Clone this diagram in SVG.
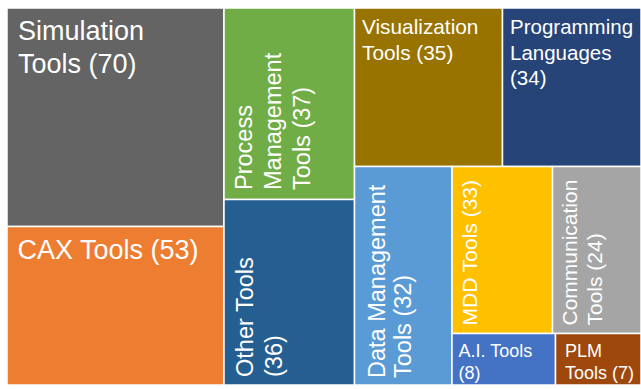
<svg xmlns="http://www.w3.org/2000/svg" width="641" height="389" viewBox="0 0 641 389">
<style>
.tile{stroke:#ffffff;stroke-width:1.5}
.lbl{fill:#ffffff;font-family:"Liberation Sans",Arial,sans-serif}
</style>
<rect width="641" height="389" fill="#ffffff"/>
<g id="simulation">
<rect class="tile" x="7" y="8" width="217" height="218.5" fill="#646464"/>
<text class="lbl" font-size="27"><tspan x="18" y="40">Simulation</tspan><tspan x="18" y="73">Tools (70)</tspan></text>
</g>
<g id="cax">
<rect class="tile" x="7" y="226.5" width="217" height="158.5" fill="#ED7D31"/>
<text class="lbl" font-size="27" x="17.5" y="259">CAX Tools (53)</text>
</g>
<g id="process">
<rect class="tile" x="224" y="8" width="130.5" height="191.5" fill="#70AD47"/>
<text class="lbl" font-size="23.5" transform="translate(252,190) rotate(-90)"><tspan x="0" y="0">Process</tspan><tspan x="0" y="29">Management</tspan><tspan x="0" y="58">Tools (37)</tspan></text>
</g>
<g id="other">
<rect class="tile" x="224" y="199.5" width="130.5" height="185.5" fill="#255E91"/>
<text class="lbl" font-size="23.5" transform="translate(252.5,377) rotate(-90)"><tspan x="0" y="0">Other Tools</tspan><tspan x="0" y="29">(36)</tspan></text>
</g>
<g id="visualization">
<rect class="tile" x="354.5" y="8" width="148" height="158.5" fill="#997300"/>
<text class="lbl" font-size="20.8"><tspan x="362" y="34">Visualization</tspan><tspan x="362" y="59.5">Tools (35)</tspan></text>
</g>
<g id="programming">
<rect class="tile" x="502.5" y="8" width="138.5" height="158.5" fill="#264478"/>
<text class="lbl" font-size="20.5"><tspan x="510" y="34">Programming</tspan><tspan x="510" y="59.5">Languages</tspan><tspan x="510" y="85">(34)</tspan></text>
</g>
<g id="datamanagement">
<rect class="tile" x="354.5" y="166.5" width="97.5" height="218.5" fill="#5B9BD5"/>
<text class="lbl" font-size="23.5" transform="translate(384.5,378) rotate(-90)"><tspan x="0" y="0">Data Management</tspan><tspan x="0" y="26.5">Tools (32)</tspan></text>
</g>
<g id="mdd">
<rect class="tile" x="452" y="166.5" width="100.5" height="167" fill="#FFC000"/>
<text class="lbl" font-size="21" transform="translate(476.5,325.5) rotate(-90)" x="0" y="0">MDD Tools (33)</text>
</g>
<g id="communication">
<rect class="tile" x="552.5" y="166.5" width="88.5" height="167" fill="#A5A5A5"/>
<text class="lbl" font-size="21" transform="translate(577,325.5) rotate(-90)"><tspan x="0" y="0">Communication</tspan><tspan x="0" y="25">Tools (24)</tspan></text>
</g>
<g id="ai">
<rect class="tile" x="452" y="333.5" width="103.5" height="51.5" fill="#4472C4"/>
<text class="lbl" font-size="18"><tspan x="458.5" y="356.5">A.I. Tools</tspan><tspan x="458.5" y="378.5">(8)</tspan></text>
</g>
<g id="plm">
<rect class="tile" x="555.5" y="333.5" width="85.5" height="51.5" fill="#9E480E"/>
<text class="lbl" font-size="18"><tspan x="565" y="356.5">PLM</tspan><tspan x="565" y="378.5">Tools (7)</tspan></text>
</g>
<g id="connectors"/>
</svg>
